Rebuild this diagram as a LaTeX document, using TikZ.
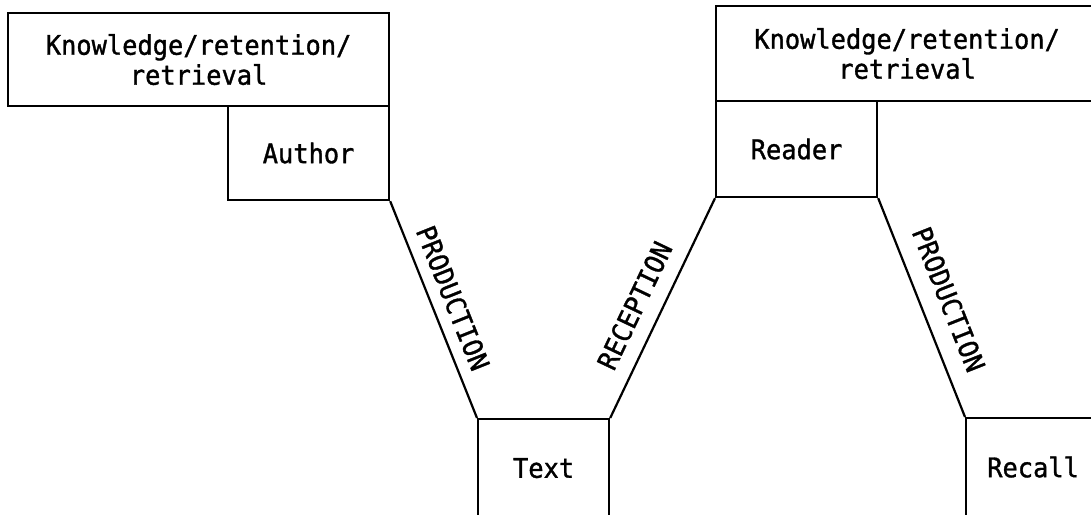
\documentclass[tikz,border=0pt]{standalone}
\usepackage{fontspec}
\setmonofont[FakeStretch=0.94, FakeBold=1.2]{DejaVu Sans Mono}
\begin{document}
\begin{tikzpicture}[x=1pt,y=-1pt,
  typed/.style={font=\ttfamily\fontsize{27}{30}\selectfont},
  box/.style={draw, line width=2.2pt, rectangle, inner sep=0pt, typed, align=center, anchor=north west},
  link/.style={line width=2.2pt, line join=round},
  lbl/.style={typed, sloped, inner sep=0pt}]
\useasboundingbox (0,0) rectangle (1091,514);
\clip (0,0) rectangle (1091,514);
\fill[white] (0,0) rectangle (1091,514);

% author side
\node[box, minimum width=381pt, minimum height=93pt] (knowA) at (7,12) {Knowledge/retention/\\retrieval};
\node[box, minimum width=161pt, minimum height=94pt] (author) at (227,105) {Author};

% the text itself
\node[box, minimum width=131pt, minimum height=98pt] (text) at (477,418) {Text};

% reader side
\node[box, minimum width=382pt, minimum height=95pt] (knowR) at (715,5) {Knowledge/retention/\\retrieval};
\node[box, minimum width=161pt, minimum height=96pt] (reader) at (715,100) {Reader};
\node[box, minimum width=134pt, minimum height=98pt] (recall) at (965,417) {Recall};

% processes between the stages
\draw[link] (author.south east) -- node[lbl, pos=0.485, above=11pt] {PRODUCTION} (text.north west);
\draw[link] (text.north east) -- node[lbl, pos=0.46, above=15pt] {RECEPTION} (reader.south west);
\draw[link] (reader.south east) -- node[lbl, pos=0.51, above=17pt] {PRODUCTION} (recall.north west);
\end{tikzpicture}
\end{document}
